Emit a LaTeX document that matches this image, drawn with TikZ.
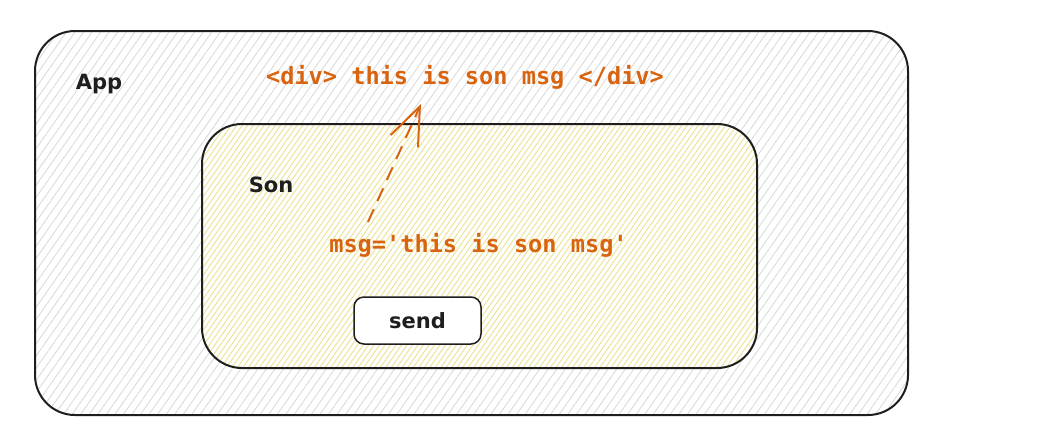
\documentclass[tikz,border=0pt]{standalone}
\usepackage{fontspec}
\setmainfont{DejaVu Sans}
\newfontfamily\codefont{DejaVu Sans Mono}
\usetikzlibrary{patterns.meta,arrows.meta}
\definecolor{ink}{HTML}{1E1E1E}
\definecolor{codeorange}{HTML}{D9640F}
\definecolor{hatchgray}{HTML}{D8D8D8}
\definecolor{hatchyellow}{HTML}{EAE290}
\tikzset{
  frame/.style={draw=ink, line width=2pt},
  label/.style={text=ink, font=\fontsize{21}{24}\selectfont\bfseries, inner sep=0pt},
  code/.style={text=codeorange, font=\codefont\fontsize{23.6}{26}\selectfont\bfseries, inner sep=0pt},
  flow/.style={draw=codeorange, line width=2pt, dash pattern=on 14pt off 9pt, -{Straight Barb[length=38pt,width=30pt,line width=2pt]}}
}
\begin{document}
\begin{tikzpicture}[x=1pt,y=-1pt]
\useasboundingbox (0,0) rectangle (1062,432);
% outer App box
\path[preaction={fill=white}, pattern={Lines[angle=55,distance=7pt,line width=0.8pt]}, pattern color=hatchgray]
  (35,31) [rounded corners=40pt] rectangle (908,415);
\draw[frame] (35,31) [rounded corners=40pt] rectangle (908,415);
% inner Son box
\path[preaction={fill=white}, pattern={Lines[angle=55,distance=4.5pt,line width=0.9pt]}, pattern color=hatchyellow]
  (202,124) [rounded corners=40pt] rectangle (757,368);
\draw[frame] (202,124) [rounded corners=40pt] rectangle (757,368);
% send button
\draw[draw=ink, line width=1.5pt, fill=white, rounded corners=10pt] (354,297) rectangle (481,344);
\node[label] (send) at (417.5,321) {send};
\node[label] (app) at (99,84) {App};
\node[label] (son) at (271,185) {Son};
\node[code] (div) at (465,77) {<div> this is son msg </div>};
\node[code] (msg) at (478.5,245) {msg='this is son msg'};
\coordinate (start) at (368,222);
\coordinate (tip) at (421,104);
\draw[flow] (start) -- (tip);
\end{tikzpicture}
\end{document}
